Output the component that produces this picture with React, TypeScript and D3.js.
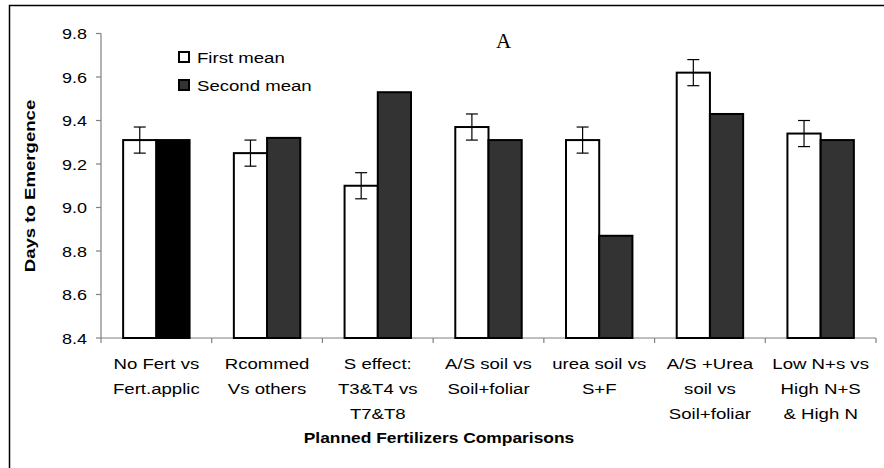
import React, { useEffect, useRef } from 'react';
import * as d3 from 'd3';

const categories: string[][] = [
  ['No Fert vs', 'Fert.applic'],
  ['Rcommed', 'Vs others'],
  ['S effect:', 'T3&T4 vs', 'T7&T8'],
  ['A/S soil vs', 'Soil+foliar'],
  ['urea soil vs', 'S+F'],
  ['A/S +Urea', 'soil vs', 'Soil+foliar'],
  ['Low N+s vs', 'High N+S', '& High N'],
];
const firstMean = [9.31, 9.25, 9.1, 9.37, 9.31, 9.62, 9.34];
const secondMean = [9.31, 9.32, 9.53, 9.31, 8.87, 9.43, 9.31];
const firstErr = [0.06, 0.06, 0.06, 0.06, 0.06, 0.06, 0.06];
const yTicks = [8.4, 8.6, 8.8, 9.0, 9.2, 9.4, 9.6, 9.8];
const seriesNames = ['First mean', 'Second mean'];

const W = 884;
const H = 468;
const SX = 1.2; // the source text is stretched sideways

const App: React.FC = () => {
  const svgRef = useRef<SVGSVGElement>(null);

  useEffect(() => {
    if (!svgRef.current) return;
    const svg = d3.select(svgRef.current);
    svg.selectAll('*').remove();

    const sans = 'Liberation Sans, Arial, sans-serif';
    const left = 101, right = 876, top = 33.5, bottom = 338;

    const text = (x: number, y: number, s: string, size: number, anchor = 'start', weight = 'normal', rot = 0) =>
      svg.append('text')
        .attr('transform', `translate(${x},${y})${rot ? ` rotate(${rot})` : ''} scale(${SX},1)`)
        .attr('text-anchor', anchor)
        .attr('font-family', sans)
        .attr('font-size', size)
        .attr('font-weight', weight)
        .attr('fill', '#000')
        .text(s);

    // outer frame (runs off the right and bottom edge)
    svg.append('rect')
      .attr('x', 9.5).attr('y', 5.5)
      .attr('width', W + 20).attr('height', H + 20)
      .attr('fill', 'none').attr('stroke', '#000').attr('stroke-width', 1.5);

    const y = d3.scaleLinear().domain([8.4, 9.8]).range([bottom, top]);
    const x = d3.scaleBand<number>()
      .domain(d3.range(categories.length))
      .range([left, right])
      .paddingInner(0.4)
      .paddingOuter(0.2);
    const bw = x.bandwidth() / 2;

    // y axis
    svg.append('line')
      .attr('x1', left).attr('x2', left).attr('y1', top).attr('y2', bottom)
      .attr('stroke', '#808080').attr('stroke-width', 1.2);
    yTicks.forEach(t => {
      svg.append('line')
        .attr('x1', left - 5).attr('x2', left).attr('y1', y(t)).attr('y2', y(t))
        .attr('stroke', '#808080').attr('stroke-width', 1.2);
      text(left - 14, y(t) + 5.5, t.toFixed(1), 15, 'end');
    });

    // x axis
    svg.append('line')
      .attr('x1', left).attr('x2', right).attr('y1', bottom).attr('y2', bottom)
      .attr('stroke', '#808080').attr('stroke-width', 1.2);
    const step = x.step();
    d3.range(categories.length + 1).forEach(i => {
      const tx = left + i * step;
      svg.append('line')
        .attr('x1', tx).attr('x2', tx).attr('y1', bottom).attr('y2', bottom + 5)
        .attr('stroke', '#808080').attr('stroke-width', 1.2);
    });

    // bars
    categories.forEach((_, i) => {
      const x0 = x(i)!;
      svg.append('rect')
        .attr('x', x0).attr('y', y(firstMean[i]))
        .attr('width', bw).attr('height', bottom - y(firstMean[i]))
        .attr('fill', '#fff').attr('stroke', '#000').attr('stroke-width', 2);
      svg.append('rect')
        .attr('x', x0 + bw).attr('y', y(secondMean[i]))
        .attr('width', bw).attr('height', bottom - y(secondMean[i]))
        .attr('fill', i === 0 ? '#000' : '#333333').attr('stroke', '#000').attr('stroke-width', 2);

      // error bar on the first mean
      const cx = x0 + bw / 2;
      const hi = y(firstMean[i] + firstErr[i]);
      const lo = y(firstMean[i] - firstErr[i]);
      svg.append('line').attr('x1', cx).attr('x2', cx).attr('y1', hi).attr('y2', lo)
        .attr('stroke', '#000').attr('stroke-width', 1.2);
      [hi, lo].forEach(v => {
        svg.append('line').attr('x1', cx - 6).attr('x2', cx + 6).attr('y1', v).attr('y2', v)
          .attr('stroke', '#000').attr('stroke-width', 1.2);
      });
    });

    // category labels
    categories.forEach((lines, i) => {
      const cx = x(i)! + x.bandwidth() / 2;
      lines.forEach((l, j) => text(cx, 369 + j * 25, l, 15.5, 'middle'));
    });

    // axis titles
    text(439, 443, 'Planned Fertilizers Comparisons', 14.5, 'middle', 'bold');
    text(35, 186, 'Days to Emergence', 15.5, 'middle', 'bold', -90);

    // legend
    seriesNames.forEach((name, i) => {
      const ly = 52 + i * 28;
      svg.append('rect')
        .attr('x', 179).attr('y', ly).attr('width', 10).attr('height', 10)
        .attr('fill', i === 0 ? '#fff' : '#333333').attr('stroke', '#000').attr('stroke-width', 2);
      text(197, ly + 11, name, 15.5);
    });

    // panel letter
    svg.append('text')
      .attr('x', 496).attr('y', 48)
      .attr('font-family', 'Liberation Serif, Times New Roman, serif')
      .attr('font-size', 21)
      .text('A');
  }, []);

  return (
    <svg ref={svgRef} width={W} height={H}
      style={{ position: 'absolute', left: 0, top: 0, background: '#fff' }} />
  );
};

export default App;
